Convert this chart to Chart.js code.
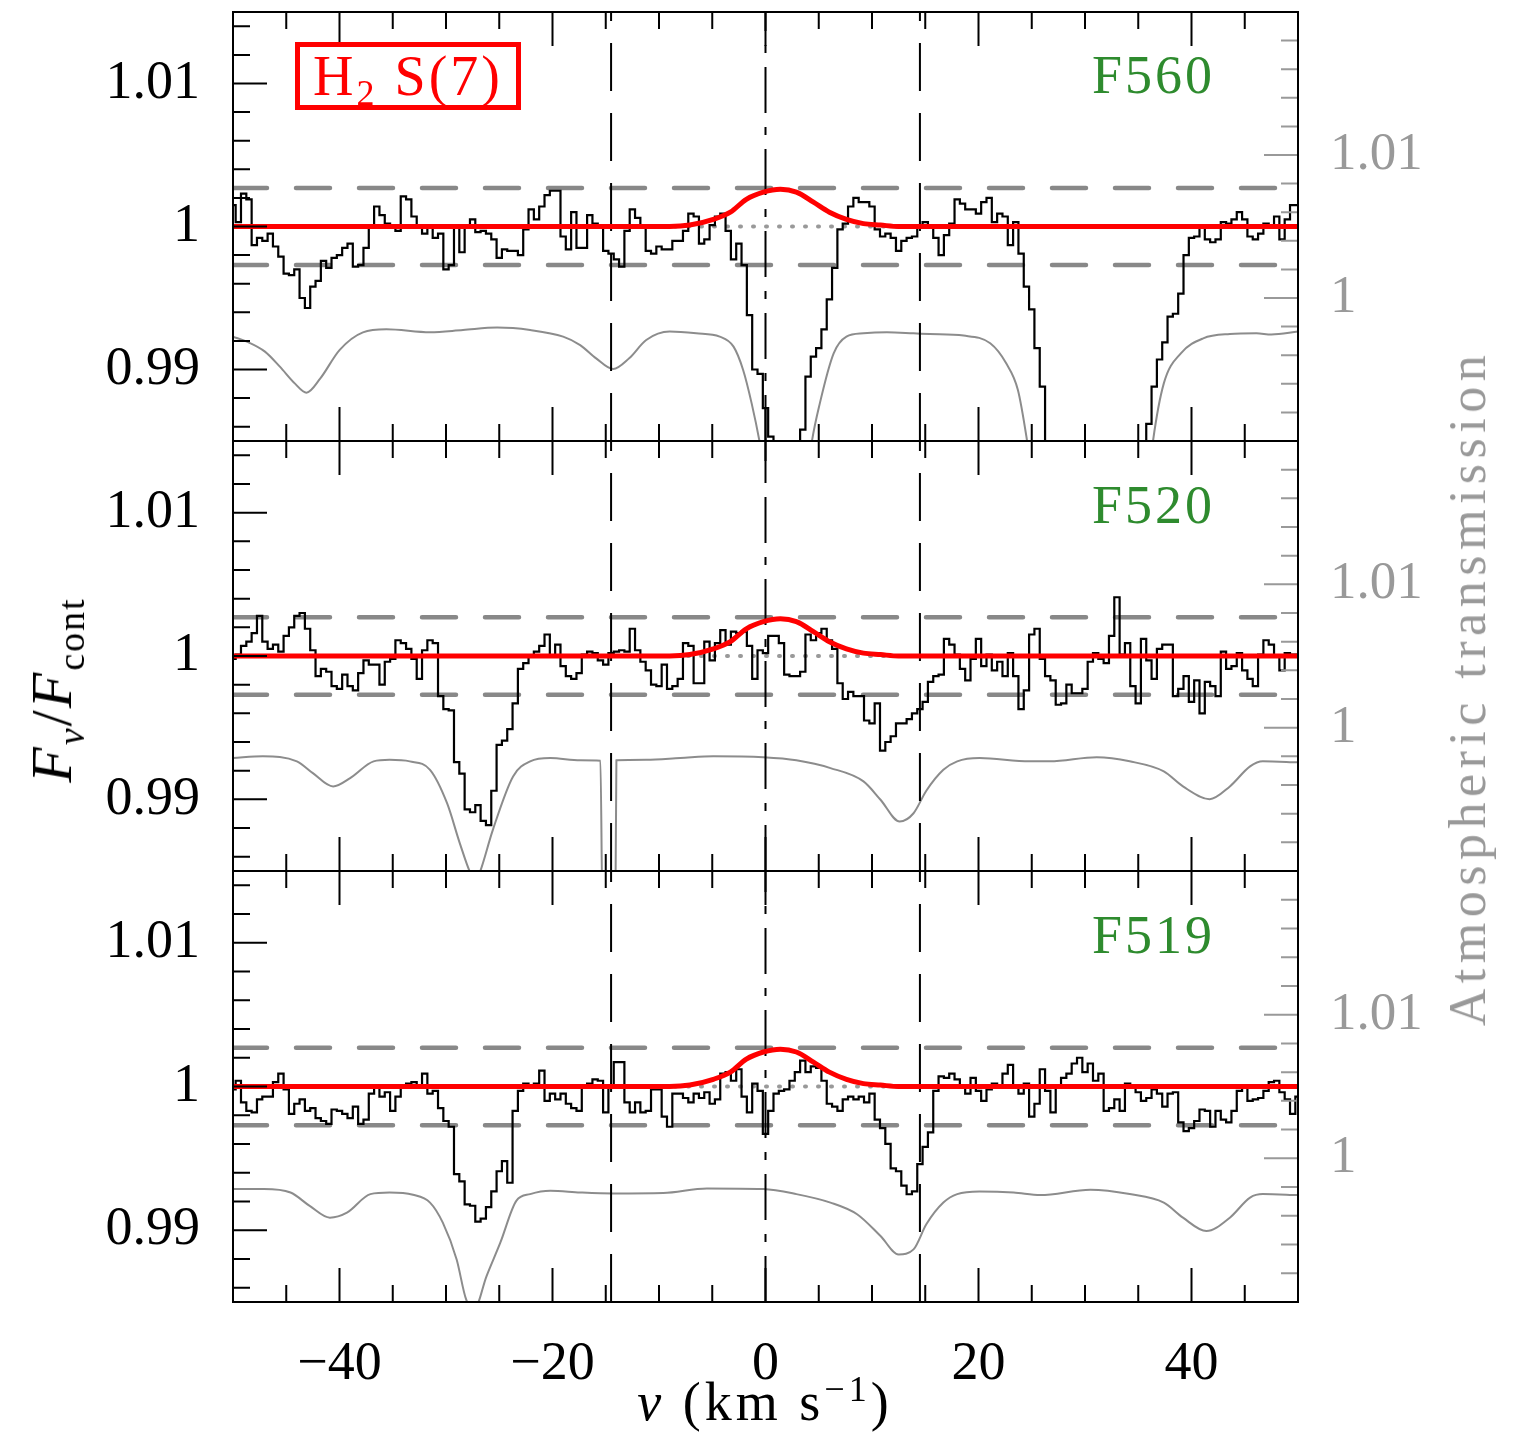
<!DOCTYPE html>
<html lang="en">
<head>
  <meta charset="UTF-8" />
  <title>H2 S(7) profiles</title>
  <style>
    body { margin: 0; background: #fff; }
    #wrap { position: relative; width: 1532px; height: 1434px; font-family: "Liberation Serif", serif; }
    #wrap canvas { position: absolute; left: 0; top: 0; }
    .lbl { position: absolute; white-space: nowrap; line-height: 1; }
    .tag { color: #2e8b2e; font-size: 54px; right: 317px; text-align: right; letter-spacing: 3px; }
    .rot { transform: translate(-50%, -50%) rotate(-90deg); }
    #legend {
      position: absolute; left: 295px; top: 42px; width: 216px; height: 58px;
      border: 5px solid #ff0000; color: #ff0000; font-size: 56px; line-height: 58px;
      text-align: center; letter-spacing: 3px;
    }
    #legend sub { font-size: 36px; vertical-align: -10px; line-height: 0; }
    sub, sup { line-height: 0; }
  </style>
</head>
<body>
<div id="wrap">
  <canvas id="p1" width="1532" height="1434"></canvas>
  <canvas id="p2" width="1532" height="1434"></canvas>
  <canvas id="p3" width="1532" height="1434"></canvas>

  <div id="legend">H<sub>2</sub> S(7)</div>
  <div class="lbl tag" style="top:48px;">F560</div>
  <div class="lbl tag" style="top:478px;">F520</div>
  <div class="lbl tag" style="top:908px;">F519</div>

  <div class="lbl rot" style="left:52px; top:690px; font-size:58px; letter-spacing:2px;">
    <i>F</i><sub style="font-size:38px;"><i>ν</i></sub>/<i>F</i><sub style="font-size:38px;">cont</sub>
  </div>
  <div class="lbl rot" style="left:1468px; top:688px; font-size:52px; color:#999; letter-spacing:5.5px;">Atmospheric transmission</div>
  <div class="lbl" style="left:765px; top:1402px; font-size:54px; transform:translate(-50%,-50%); letter-spacing:4px;">
    <i>v</i> (km s<sup style="font-size:36px;">−1</sup>)
  </div>
</div>

<script src="https://cdn.jsdelivr.net/npm/chart.js"></script>
<script>
  // velocity bins (km/s)
  const vel = [
    -50,-49.5,-49,-48.5,-48,-47.5,-47,-46.5,-46,-45.5,-45,-44.5,-44,-43.5,-43,-42.5,-42,-41.5,-41,-40.5,
    -40,-39.5,-39,-38.5,-38,-37.5,-37,-36.5,-36,-35.5,-35,-34.5,-34,-33.5,-33,-32.5,-32,-31.5,-31,-30.5,
    -30,-29.5,-29,-28.5,-28,-27.5,-27,-26.5,-26,-25.5,-25,-24.5,-24,-23.5,-23,-22.5,-22,-21.5,-21,-20.5,
    -20,-19.5,-19,-18.5,-18,-17.5,-17,-16.5,-16,-15.5,-15,-14.5,-14,-13.5,-13,-12.5,-12,-11.5,-11,-10.5,
    -10,-9.5,-9,-8.5,-8,-7.5,-7,-6.5,-6,-5.5,-5,-4.5,-4,-3.5,-3,-2.5,-2,-1.5,-1,-0.5,
    0,0.5,1,1.5,2,2.5,3,3.5,4,4.5,5,5.5,6,6.5,7,7.5,8,8.5,9,9.5,
    10,10.5,11,11.5,12,12.5,13,13.5,14,14.5,15,15.5,16,16.5,17,17.5,18,18.5,19,19.5,
    20,20.5,21,21.5,22,22.5,23,23.5,24,24.5,25,25.5,26,26.5,27,27.5,28,28.5,29,29.5,
    30,30.5,31,31.5,32,32.5,33,33.5,34,34.5,35,35.5,36,36.5,37,37.5,38,38.5,39,39.5,
    40,40.5,41,41.5,42,42.5,43,43.5,44,44.5,45,45.5,46,46.5,47,47.5,48,48.5,49,49.5,
    50
  ];

  // normalised flux, F560
  const fluxF560 = [
    1.0015,1.0003,1.0023,1.0019,0.9987,0.9992,0.9990,0.9995,0.9986,0.9979,0.9967,0.9966,0.9970,0.9950,0.9943,0.9958,0.9962,0.9976,0.9971,0.9978,
    0.9980,0.9985,0.9988,0.9972,0.9973,0.9985,1.0001,1.0014,1.0008,1.0002,1.0001,0.9997,1.0021,1.0019,1.0007,1.0001,0.9995,1.0001,0.9992,0.9995,
    0.9970,0.9973,1.0001,0.9982,0.9999,1.0005,0.9996,0.9997,0.9995,0.9991,0.9978,0.9984,0.9983,0.9983,0.9980,0.9998,1.0012,1.0005,1.0014,1.0022,
    1.0025,1.0025,0.9993,0.9984,1.0010,0.9985,0.9985,1.0008,1.0002,1.0001,0.9983,0.9981,0.9977,0.9972,0.9997,1.0012,1.0006,1.0000,0.9983,0.9981,
    0.9986,0.9984,0.9984,0.9990,0.9990,0.9997,1.0009,1.0007,0.9988,0.9991,1.0001,1.0007,1.0009,0.9997,0.9977,0.9988,0.9973,0.9938,0.9900,0.9897,
    0.9873,0.9853,0.9800,0.9800,0.9800,0.9800,0.9850,0.9858,0.9895,0.9909,0.9915,0.9928,0.9949,0.9971,0.9998,1.0002,1.0014,1.0020,1.0017,1.0017,
    1.0014,0.9998,0.9993,0.9995,0.9992,0.9983,0.9990,0.9992,0.9993,1.0000,1.0003,0.9999,0.9992,0.9980,0.9994,1.0002,1.0019,1.0016,1.0012,1.0012,
    1.0009,1.0017,1.0020,1.0003,1.0009,1.0007,0.9987,1.0003,0.9981,0.9958,0.9942,0.9915,0.9888,0.9800,0.9800,0.9800,0.9800,0.9800,0.9800,0.9800,
    0.9800,0.9800,0.9800,0.9800,0.9800,0.9800,0.9800,0.9800,0.9800,0.9800,0.9800,0.9800,0.9862,0.9888,0.9907,0.9919,0.9937,0.9939,0.9953,0.9980,
    0.9992,0.9993,1.0001,0.9991,0.9989,0.9991,1.0003,1.0002,1.0005,1.0010,1.0005,0.9993,0.9991,0.9995,1.0002,1.0001,1.0007,0.9991,1.0005,1.0015,
    1.0015
  ];

  // normalised flux, F520
  const fluxF520 = [
    0.9998,1.0001,1.0007,1.0010,1.0016,1.0028,1.0010,1.0005,1.0008,1.0003,1.0014,1.0020,1.0028,1.0030,1.0019,1.0004,0.9986,0.9991,0.9989,0.9979,
    0.9977,0.9987,0.9979,0.9976,0.9988,0.9997,0.9994,0.9994,0.9980,0.9996,0.9998,1.0011,1.0009,1.0005,0.9998,0.9984,1.0004,1.0011,1.0009,0.9972,
    0.9963,0.9962,0.9926,0.9918,0.9893,0.9891,0.9896,0.9885,0.9882,0.9906,0.9938,0.9941,0.9949,0.9967,0.9991,0.9995,1.0000,1.0003,1.0007,1.0015,
    1.0000,1.0008,0.9993,0.9986,0.9984,0.9988,1.0001,1.0003,1.0002,0.9997,0.9994,1.0002,1.0003,1.0004,1.0003,1.0019,1.0004,0.9996,0.9990,0.9980,
    0.9979,0.9994,0.9977,0.9979,0.9984,1.0009,1.0007,0.9981,0.9981,1.0010,0.9997,1.0009,1.0018,1.0008,1.0017,1.0016,1.0017,1.0007,0.9984,1.0004,
    1.0002,1.0014,1.0014,1.0009,0.9987,0.9986,0.9986,0.9989,1.0015,1.0011,1.0016,1.0019,1.0011,1.0005,0.9981,0.9970,0.9975,0.9972,0.9972,0.9955,
    0.9953,0.9967,0.9934,0.9940,0.9944,0.9953,0.9953,0.9956,0.9960,0.9963,0.9968,0.9982,0.9986,0.9987,1.0012,1.0008,1.0001,0.9991,0.9983,0.9998,
    1.0012,0.9993,1.0001,0.9990,0.9996,0.9986,1.0002,0.9986,0.9963,0.9976,1.0015,1.0019,0.9998,0.9986,0.9983,0.9966,0.9967,0.9980,0.9974,0.9974,
    0.9977,0.9996,1.0002,0.9998,0.9995,1.0014,1.0041,1.0001,1.0009,0.9979,0.9967,1.0012,0.9997,0.9984,1.0005,1.0008,1.0008,0.9972,0.9977,0.9986,
    0.9968,0.9983,0.9960,0.9982,0.9979,0.9972,1.0003,0.9991,0.9993,1.0002,0.9990,0.9984,0.9979,1.0001,1.0011,1.0008,1.0000,0.9990,1.0002,1.0001,
    1.0001
  ];

  // normalised flux, F519
  const fluxF519 = [
    0.9998,1.0004,0.9989,0.9983,0.9982,0.9991,0.9993,0.9993,1.0003,1.0009,0.9998,0.9981,0.9988,0.9991,0.9983,0.9985,0.9978,0.9976,0.9974,0.9984,
    0.9983,0.9981,0.9978,0.9986,0.9974,0.9977,0.9995,0.9999,0.9993,0.9996,0.9983,0.9993,1.0000,1.0002,1.0003,0.9999,1.0009,0.9995,0.9997,0.9985,
    0.9976,0.9972,0.9939,0.9934,0.9918,0.9917,0.9906,0.9908,0.9916,0.9927,0.9941,0.9948,0.9933,0.9983,0.9997,1.0002,0.9999,1.0002,1.0011,0.9990,
    0.9995,0.9991,0.9995,0.9988,0.9985,0.9983,1.0000,1.0002,1.0005,1.0004,0.9982,1.0000,1.0017,1.0017,0.9989,0.9982,0.9989,0.9982,0.9983,0.9998,
    0.9998,0.9979,0.9972,0.9995,0.9995,0.9992,0.9989,0.9995,0.9992,0.9996,0.9988,0.9991,1.0009,1.0010,1.0004,1.0012,0.9993,0.9982,1.0002,0.9997,
    0.9967,0.9983,0.9995,0.9997,0.9998,1.0004,1.0010,1.0018,1.0010,1.0014,1.0013,1.0004,0.9988,0.9986,0.9983,0.9991,0.9993,0.9991,0.9993,0.9989,
    0.9995,0.9977,0.9971,0.9960,0.9943,0.9941,0.9931,0.9925,0.9927,0.9946,0.9958,0.9968,0.9997,1.0007,1.0006,1.0009,1.0005,1.0000,0.9995,1.0006,
    0.9997,0.9990,0.9998,1.0002,0.9999,1.0009,1.0015,1.0000,0.9995,1.0002,0.9979,0.9988,1.0012,0.9997,0.9982,1.0000,1.0006,1.0009,1.0016,1.0020,
    1.0010,1.0016,1.0004,1.0009,0.9983,0.9985,0.9991,0.9983,1.0002,1.0000,0.9996,0.9990,0.9992,0.9998,0.9995,0.9986,0.9995,0.9996,0.9975,0.9969,
    0.9971,0.9976,0.9984,0.9983,0.9972,0.9983,0.9977,0.9975,0.9983,0.9997,0.9999,0.9990,0.9991,0.9992,0.9997,1.0003,1.0004,0.9996,0.9991,0.9981,
    0.9993
  ];

  // atmospheric transmission (right axis), one curve per filter
  const atmVelF560 = [-50,-48.7,-47,-45.6,-44.2,-43.1,-41.8,-40,-37.8,-35.6,-31.5,-28.4,-25.2,-22.1,-19,-17.4,-15.9,-14.3,-12.8,-11.2,
    -9,-6.5,-4.3,-3,-2.1,-1.3,-0.5,0.5,2,3.5,4.3,5.1,6.4,7.6,9.2,11.4,13.9,15.4,18.6,21.1,
    22.6,23.7,24.5,25.3,30,35.8,36.4,37.4,39,41.1,43.6,46.1,47.5,50];
  const atmF560 = [0.99730,0.99695,0.99625,0.99520,0.99403,0.99338,0.99438,0.99636,0.99760,0.99781,0.99760,0.99776,0.99793,0.99776,0.99730,0.99671,0.99578,0.99503,0.99578,0.99706,
    0.99765,0.99753,0.99730,0.99660,0.99497,0.99263,0.98972,0.9850,0.9800,0.9850,0.98972,0.99263,0.99613,0.99730,0.99753,0.99760,0.99753,0.99748,0.99737,0.99683,
    0.99543,0.99357,0.99030,0.9860,0.9750,0.9860,0.99007,0.99403,0.99613,0.99718,0.99748,0.99753,0.99745,0.99765];

  const atmVelF520 = [-50,-47.2,-44,-42.5,-40.6,-39,-36.8,-35.3,-33.4,-31.5,-29.9,-28.7,-27.7,-27.2,-26.8,-25.6,-23.7,-22.1,-20.2,-17.4,
    -15.5,-15.3,-14.1,-14.0,-11.2,-8,-4.9,-0.2,2.9,6.1,9.2,10.8,12.6,13.9,15.1,16.7,18,20.1,24.8,26.7,
    31.1,34.2,37.4,39.2,41.7,43.6,45.5,46.7,50];
  const atmF520 = [0.99788,0.99800,0.99765,0.99683,0.99590,0.99648,0.99765,0.99776,0.99765,0.99706,0.99473,0.99193,0.98984,0.98930,0.98995,0.99287,0.99660,0.99765,0.99788,0.99772,
    0.99769,0.98700,0.98700,0.99772,0.99776,0.99788,0.99800,0.99793,0.99772,0.99718,0.99625,0.99497,0.99345,0.99403,0.99560,0.99706,0.99765,0.99788,0.99765,0.99765,
    0.99793,0.99765,0.99695,0.99590,0.99501,0.99590,0.99730,0.99765,0.99758];

  const atmVelF519 = [-50,-47.1,-44.6,-42.8,-40.9,-39.3,-37.1,-35.3,-33.1,-31.5,-30.3,-29,-28.1,-27.3,-26.2,-24.9,-23.4,-22.1,-20.2,-17.4,
    -14.3,-9.6,-5.5,-0.2,2.9,6.1,8.6,10.8,12.5,13.9,15.1,16.7,18,20.1,23.3,25.8,30.5,34.2,37.4,39.2,
    41.4,43.6,45.5,46.7,50];
  const atmF519 = [0.99786,0.99786,0.99762,0.99669,0.99587,0.99622,0.99751,0.99762,0.99746,0.99692,0.99552,0.99296,0.99016,0.98960,0.99179,0.99413,0.99704,0.99751,0.99774,0.99762,
    0.99755,0.99758,0.99790,0.99786,0.99751,0.99692,0.99611,0.99459,0.99331,0.99366,0.99541,0.99692,0.99751,0.99769,0.99762,0.99744,0.99781,0.99751,0.99692,0.99587,
    0.99494,0.99587,0.99727,0.99751,0.99744];

  // H2 S(7) model line (same in every panel)
  const modelVel = [-50,-9,-7.1,-4.9,-3.3,-1.8,-0.2,1.4,2.9,4.5,6.0,7.6,9.2,10.8,12.5,50];
  const modelFlux = [1.0000,1.0000,1.0001,1.0005,1.0010,1.0019,1.0024,1.0026,1.0024,1.0017,1.0010,1.0005,1.0002,1.0001,1.0000,1.0000];

  const noiseHi = 1.0027, noiseLo = 0.9973;
  const markerVel = [-14.5, 0, 14.5];

  // axes
  const xTickVals = [-40, -20, 0, 20, 40];
  const xTickLabels = ['\u221240', '\u221220', '0', '20', '40'];
  const xMinor = [-45,-40,-35,-30,-25,-20,-15,-10,-5,0,5,10,15,20,25,30,35,40,45];
  const yTickVals = [0.99, 1, 1.01];
  const yTickLabels = ['0.99', '1', '1.01'];
  const yMinor = [0.986,0.988,0.99,0.992,0.994,0.996,0.998,1,1.002,1.004,1.006,1.008,1.01,1.012,1.014];
  const rTickVals = [1, 1.01];
  const rTickLabels = ['1', '1.01'];
  const rMinor = [0.992,0.994,0.996,0.998,1,1.002,1.004,1.006,1.008,1.01,1.012,1.014,1.016,1.018];

  const FONT = 'Liberation Serif';

  function pts(xs, ys) {
    return xs.map((v, i) => ({ x: v, y: ys[i] }));
  }

  // inward tick marks + frame
  const frame = {
    id: 'frame',
    afterDatasetsDraw(chart) {
      const { ctx, chartArea: a, scales } = chart;
      const x = scales.x, y = scales.y, r = scales.yR;
      ctx.save();
      ctx.lineWidth = 2;
      ctx.strokeStyle = '#000';
      ctx.beginPath();
      xMinor.forEach(v => {
        const len = xTickVals.includes(v) ? 34 : 17;
        const px = x.getPixelForValue(v);
        ctx.moveTo(px, a.bottom); ctx.lineTo(px, a.bottom - len);
        ctx.moveTo(px, a.top); ctx.lineTo(px, a.top + len);
      });
      yMinor.forEach(v => {
        const len = yTickVals.includes(v) ? 34 : 17;
        const py = y.getPixelForValue(v);
        ctx.moveTo(a.left, py); ctx.lineTo(a.left + len, py);
      });
      ctx.stroke();

      ctx.strokeStyle = '#999';
      ctx.beginPath();
      rMinor.forEach(v => {
        const len = rTickVals.includes(v) ? 34 : 17;
        const py = r.getPixelForValue(v);
        ctx.moveTo(a.right, py); ctx.lineTo(a.right - len, py);
      });
      ctx.stroke();

      ctx.strokeStyle = '#000';
      ctx.strokeRect(a.left, a.top, a.right - a.left, a.bottom - a.top);
      ctx.restore();
    }
  };

  function makePanel(id, flux, atmVel, atm, box) {
    const datasets = [
      { data: pts(modelVel, modelFlux), borderColor: '#ff0000', borderWidth: 5,
        cubicInterpolationMode: 'monotone', order: 0 },
      { data: pts([markerVel[0], markerVel[0]], [0.985, 1.015]), borderColor: '#000', borderWidth: 2,
        borderDash: [48, 22], order: 1 },
      { data: pts([markerVel[1], markerVel[1]], [0.985, 1.015]), borderColor: '#000', borderWidth: 2,
        borderDash: [46, 14, 8, 14], order: 1 },
      { data: pts([markerVel[2], markerVel[2]], [0.985, 1.015]), borderColor: '#000', borderWidth: 2,
        borderDash: [48, 22], order: 1 },
      { data: pts(vel, flux), borderColor: '#000', borderWidth: 2.2, stepped: 'middle', order: 2 },
      { data: pts([-50, 50], [1, 1]), borderColor: '#999', borderWidth: 4,
        borderDash: [1, 12], borderCapStyle: 'round', order: 3 },
      { data: pts([-50, 50], [noiseHi, noiseHi]), borderColor: '#888', borderWidth: 4.5,
        borderDash: [34, 29], borderCapStyle: 'round', order: 4 },
      { data: pts([-50, 50], [noiseLo, noiseLo]), borderColor: '#888', borderWidth: 4.5,
        borderDash: [34, 29], borderCapStyle: 'round', order: 4 },
      { data: pts(atmVel, atm), yAxisID: 'yR', borderColor: '#8c8c8c', borderWidth: 2,
        cubicInterpolationMode: 'monotone', order: 5 }
    ];
    datasets.forEach(d => { d.pointRadius = 0; d.fill = false; d.clip = 0; });

    const xScale = {
      type: 'linear', min: -50, max: 50, display: box.showX,
      grid: { display: false, drawTicks: false }, border: { display: false },
      afterBuildTicks: s => { s.ticks = xTickVals.map(v => ({ value: v })); },
      ticks: {
        callback: (v, i) => xTickLabels[i], color: '#000', padding: 30,
        font: { family: FONT, size: 54 }, maxRotation: 0, autoSkip: false
      }
    };
    if (box.showX) {
      xScale.afterFit = s => { s.height = 132; s.paddingLeft = 0; s.paddingRight = 0; };
    }

    return new Chart(document.getElementById(id), {
      type: 'line',
      data: { datasets },
      options: {
        responsive: false,
        animation: false,
        events: [],
        layout: { padding: { top: box.top, bottom: box.bottom, left: 0, right: 0 } },
        plugins: { legend: { display: false }, tooltip: { enabled: false } },
        scales: {
          x: xScale,
          y: {
            position: 'left', min: 0.985, max: 1.015,
            grid: { display: false, drawTicks: false }, border: { display: false },
            afterBuildTicks: s => { s.ticks = yTickVals.map(v => ({ value: v })); },
            ticks: { callback: (v, i) => yTickLabels[i], color: '#000', padding: 33,
                     font: { family: FONT, size: 54 } },
            afterFit: s => { s.width = 233; s.paddingTop = 0; s.paddingBottom = 0; }
          },
          yR: {
            position: 'right', min: 0.99, max: 1.02,
            grid: { display: false, drawTicks: false }, border: { display: false },
            afterBuildTicks: s => { s.ticks = rTickVals.map(v => ({ value: v })); },
            ticks: { callback: (v, i) => rTickLabels[i], color: '#999', padding: 32,
                     font: { family: FONT, size: 53 } },
            afterFit: s => { s.width = 234; s.paddingTop = 0; s.paddingBottom = 0; }
          }
        }
      },
      plugins: [frame]
    });
  }

  makePanel('p1', fluxF560, atmVelF560, atmF560, { top: 12, bottom: 993, showX: false });
  makePanel('p2', fluxF520, atmVelF520, atmF520, { top: 441, bottom: 563, showX: false });
  makePanel('p3', fluxF519, atmVelF519, atmF519, { top: 871, bottom: 0, showX: true });
</script>
</body>
</html>
